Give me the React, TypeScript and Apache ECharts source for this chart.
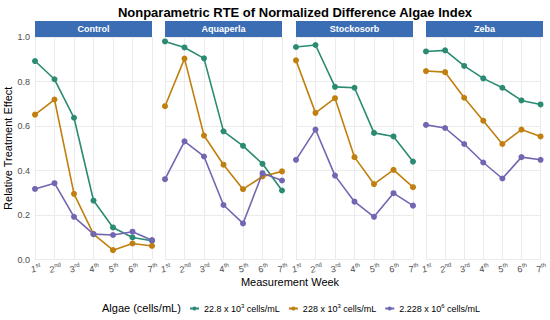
import React, { useEffect, useRef } from "react";
import * as echarts from "echarts";

const panels = ["Control", "Aquaperla", "Stockosorb", "Zeba"];
const weeks = ["1", "2", "3", "4", "5", "6", "7"];
const weekSuffix = ["st", "nd", "rd", "th", "th", "th", "th"];
const seriesNames = ["22.8 x 10{s|3} cells/mL", "228 x 10{s|3} cells/mL", "2.228 x 10{s|6} cells/mL"];
const seriesKeys = ["low", "mid", "high"];
const colors = ["#2b8b72", "#c17f0f", "#7166b2"];

// values per panel: [low, mid, high]
const controlLow = [0.892, 0.81, 0.637, 0.265, 0.144, 0.099, 0.084];
const controlMid = [0.651, 0.719, 0.295, 0.114, 0.042, 0.072, 0.061];
const controlHigh = [0.317, 0.343, 0.192, 0.114, 0.11, 0.125, 0.087];
const aquaLow = [0.98, 0.953, 0.904, 0.576, 0.511, 0.43, 0.31];
const aquaMid = [0.689, 0.903, 0.557, 0.426, 0.316, 0.373, 0.396];
const aquaHigh = [0.361, 0.531, 0.463, 0.245, 0.162, 0.388, 0.355];
const stockLow = [0.955, 0.964, 0.776, 0.772, 0.569, 0.553, 0.44];
const stockMid = [0.895, 0.659, 0.725, 0.46, 0.339, 0.403, 0.325];
const stockHigh = [0.448, 0.584, 0.377, 0.26, 0.192, 0.298, 0.242];
const zebaLow = [0.935, 0.94, 0.87, 0.814, 0.772, 0.715, 0.697];
const zebaMid = [0.847, 0.842, 0.727, 0.624, 0.519, 0.584, 0.553];
const zebaHigh = [0.605, 0.591, 0.519, 0.436, 0.364, 0.46, 0.448];

const panelData = [
  [controlLow, controlMid, controlHigh],
  [aquaLow, aquaMid, aquaHigh],
  [stockLow, stockMid, stockHigh],
  [zebaLow, zebaMid, zebaHigh],
];
const yTicks = [0, 0.2, 0.4, 0.6, 0.8, 1.0];

const FONT = "Liberation Sans, Arial, sans-serif";

export default function App() {
  const ref = useRef<HTMLDivElement>(null);
  useEffect(() => {
    document.body.style.margin = "0";
    if (!ref.current) return;
    const chart = echarts.init(ref.current, null, { renderer: "svg" });
    const lefts = [35, 165, 296, 426];
    const pw = 117;
    const top = 37;
    const ph = 222.5;

    const grids = lefts.map((l) => ({ left: l, top, width: pw, height: ph, containLabel: false }));
    const xAxes = lefts.map((_, i) => ({
      type: "category",
      gridIndex: i,
      data: weeks,
      boundaryGap: false,
      axisLine: { show: false },
      axisTick: { show: false },
      axisLabel: {
        interval: 0,
        hideOverlap: false,
        showMinLabel: true,
        showMaxLabel: true,
        rotate: 8,
        align: "center",
        verticalAlign: "top",
        margin: 3,
        color: "#4d4d4d",
        fontFamily: FONT,
        fontSize: 9,
        formatter: (v: string, idx: number) => `{n|${v}}{s|${weekSuffix[idx]}}`,
        rich: {
          n: { fontSize: 9, lineHeight: 11, color: "#4d4d4d", fontFamily: FONT, verticalAlign: "bottom" },
          s: { fontSize: 6, lineHeight: 11, color: "#4d4d4d", fontFamily: FONT, verticalAlign: "top" },
        },
      },
      splitLine: { show: true, lineStyle: { color: "#ebebeb", width: 1 } },
    }));
    const yAxes = lefts.map((_, i) => ({
      type: "value",
      gridIndex: i,
      min: yTicks[0],
      max: yTicks[yTicks.length - 1],
      interval: 0.2,
      axisLine: { show: false },
      axisTick: { show: false },
      axisLabel: {
        show: i === 0,
        color: "#4d4d4d",
        fontFamily: FONT,
        fontSize: 9,
        margin: 5,
        formatter: (v: number) => v.toFixed(1),
      },
      splitLine: { show: true, lineStyle: { color: "#ebebeb", width: 1 } },
      name: i === 0 ? "Relative Treatment Effect" : "",
      nameLocation: "middle",
      nameGap: 22,
      nameTextStyle: { fontFamily: FONT, fontSize: 11, color: "#000" },
    }));

    const series: any[] = [];
    panelData.forEach((pd, pi) => {
      pd.forEach((vals, si) => {
        series.push({
          type: "line",
          name: seriesNames[si],
          id: `${panels[pi]}-${seriesKeys[si]}`,
          xAxisIndex: pi,
          yAxisIndex: pi,
          data: vals,
          symbol: "circle",
          symbolSize: 6,
          showSymbol: true,
          lineStyle: { color: colors[si], width: 1.6 },
          itemStyle: { color: colors[si] },
          z: 2 + si,
        });
      });
    });

    const graphics: any[] = [];
    lefts.forEach((l, i) => {
      graphics.push({
        type: "rect",
        shape: { x: l, y: 21, width: pw, height: 16 },
        style: { fill: "#3b6db5" },
        silent: true,
      });
      graphics.push({
        type: "text",
        x: l + pw / 2,
        y: 29,
        style: {
          text: panels[i],
          fill: "#fff",
          font: `bold 9px ${FONT}`,
          align: "center",
          verticalAlign: "middle",
        },
        silent: true,
      });
    });
    graphics.push({
      type: "text",
      x: 290,
      y: 282,
      style: { text: "Measurement Week", fill: "#000", font: `11px ${FONT}`, align: "center", verticalAlign: "middle" },
    });
    graphics.push({
      type: "text",
      x: 102,
      y: 308,
      style: { text: "Algae (cells/mL)", fill: "#000", font: `11px ${FONT}`, align: "left", verticalAlign: "middle" },
    });

    chart.setOption({
      animation: false,
      backgroundColor: "#fff",
      title: {
        text: "Nonparametric RTE of Normalized Difference Algae Index",
        left: 290,
        textAlign: "center",
        top: 1,
        textStyle: { fontFamily: FONT, fontSize: 13, fontWeight: "bold", color: "#000" },
      },
      grid: grids,
      xAxis: xAxes,
      yAxis: yAxes,
      series,
      legend: {
        data: seriesNames.map((n, i) => ({ name: n, itemStyle: { color: colors[i] }, lineStyle: { color: colors[i] } })),
        left: 184,
        top: 298,
        itemWidth: 9,
        itemHeight: 5,
        itemGap: 8,
        textStyle: {
          fontFamily: FONT,
          fontSize: 9,
          color: "#000",
          rich: {
            s: { fontSize: 6, lineHeight: 11, verticalAlign: "top", fontFamily: FONT, color: "#000" },
          },
        },
      },
      graphic: graphics,
    });
    return () => chart.dispose();
  }, []);
  return <div ref={ref} style={{ width: 550, height: 320 }} />;
}
